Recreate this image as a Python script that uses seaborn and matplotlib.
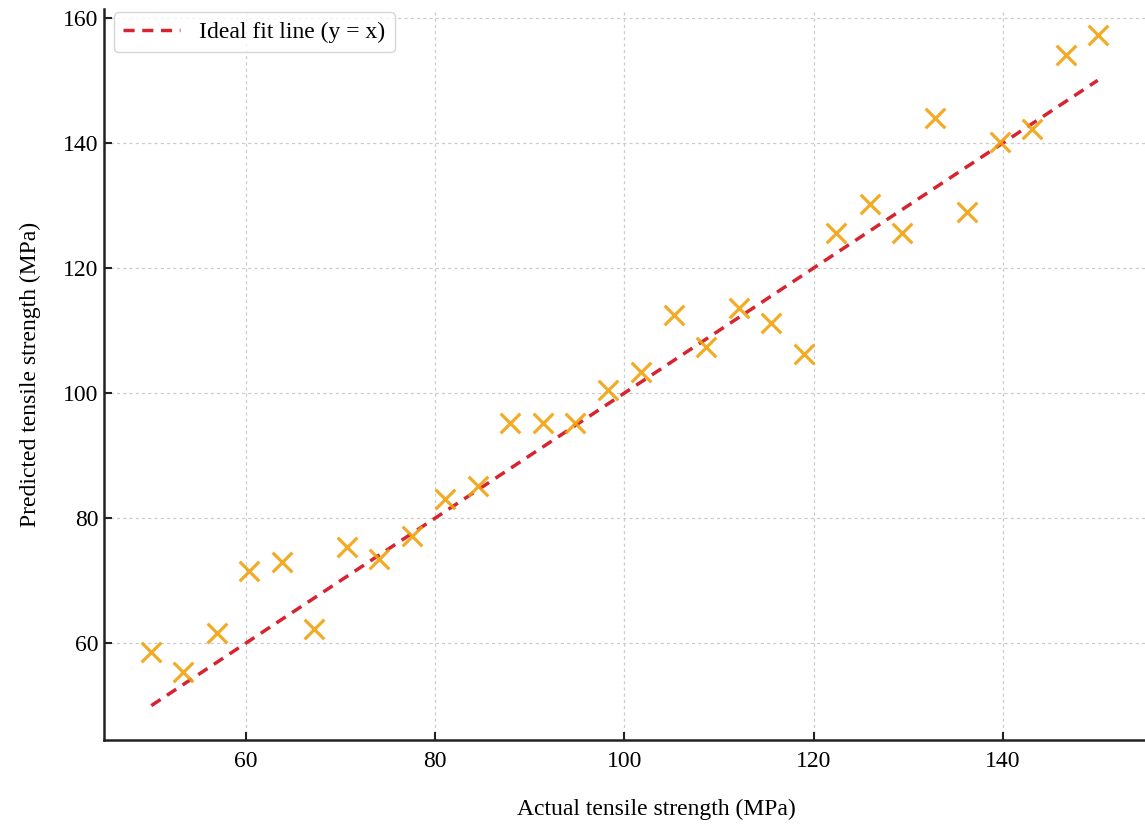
import matplotlib
matplotlib.use("Agg")
import matplotlib.pyplot as plt
import seaborn as sns
import pandas as pd

actual = [50.0, 53.4, 56.9, 60.3, 63.8, 67.2, 70.7, 74.1, 77.6, 81.0,
          84.5, 87.9, 91.4, 94.8, 98.3, 101.7, 105.2, 108.6, 112.1, 115.5,
          119.0, 122.4, 125.9, 129.3, 132.8, 136.2, 139.7, 143.1, 146.6, 150.0]
predicted = [58.6, 55.4, 61.6, 71.5, 73.0, 62.2, 75.4, 73.4, 77.1, 83.1,
             85.1, 95.2, 95.2, 95.2, 100.5, 103.4, 112.5, 107.4, 113.6, 111.2,
             106.2, 125.6, 130.3, 125.6, 144.0, 129.0, 140.2, 142.2, 154.1, 157.3]
ideal_x = [50.0, 150.0]
ideal_y = [50.0, 150.0]
x_ticks = [60, 80, 100, 120, 140]
y_ticks = [60, 80, 100, 120, 140, 160]

sns.set_style("white")
plt.rcParams['font.family'] = ['Liberation Serif', 'DejaVu Serif']
plt.rcParams['text.color'] = 'black'
plt.rcParams['axes.labelcolor'] = 'black'
plt.rcParams['xtick.color'] = 'black'
plt.rcParams['ytick.color'] = 'black'

fig = plt.figure(figsize=(11.45, 8.25), dpi=100)
ax = fig.add_axes([0.0908, 0.103, 0.9092, 0.886])

df = pd.DataFrame({"actual": actual, "predicted": predicted})
line_df = pd.DataFrame({"x": ideal_x, "y": ideal_y})

sns.lineplot(data=line_df, x="x", y="y", ax=ax, color="#D62530", lw=2.5,
             linestyle=(0, (3.2, 2.2)), label="Ideal fit line (y = x)", zorder=3)
sns.scatterplot(data=df, x="actual", y="predicted", ax=ax, marker="x",
                color="#F0A20F", s=200, linewidth=2.3, alpha=0.9, zorder=4, legend=False)

ax.set_xlim(45, 155)
ax.set_ylim(44.5, 161.4)
ax.set_xticks(x_ticks)
ax.set_yticks(y_ticks)
ax.grid(True, color="#cccccc", linestyle=(0, (2.5, 2.5)), linewidth=0.9)
ax.set_axisbelow(True)

for s in ["top", "right"]:
    ax.spines[s].set_visible(False)
for s in ["left", "bottom"]:
    ax.spines[s].set_color("#222222")
    ax.spines[s].set_linewidth(1.8)

ax.tick_params(direction="in", length=6, width=1.5, color="#222222",
               labelsize=17, left=True, bottom=True, labelcolor="black")
ax.tick_params(axis="y", pad=4)
ax.tick_params(axis="x", pad=8)

ax.set_xlabel("Actual tensile strength (MPa)", fontsize=17)
ax.xaxis.set_label_coords(0.531, -0.08)
ax.set_ylabel("Predicted tensile strength (MPa)", fontsize=17, labelpad=16)

leg = ax.legend(loc="upper left", bbox_to_anchor=(0.0096, 0.996), fontsize=17,
                frameon=True, fancybox=True, borderaxespad=0.0,
                handlelength=2.4, edgecolor="#cccccc")
leg.get_frame().set_linewidth(1.0)

fig.savefig("out.png", dpi=100)
